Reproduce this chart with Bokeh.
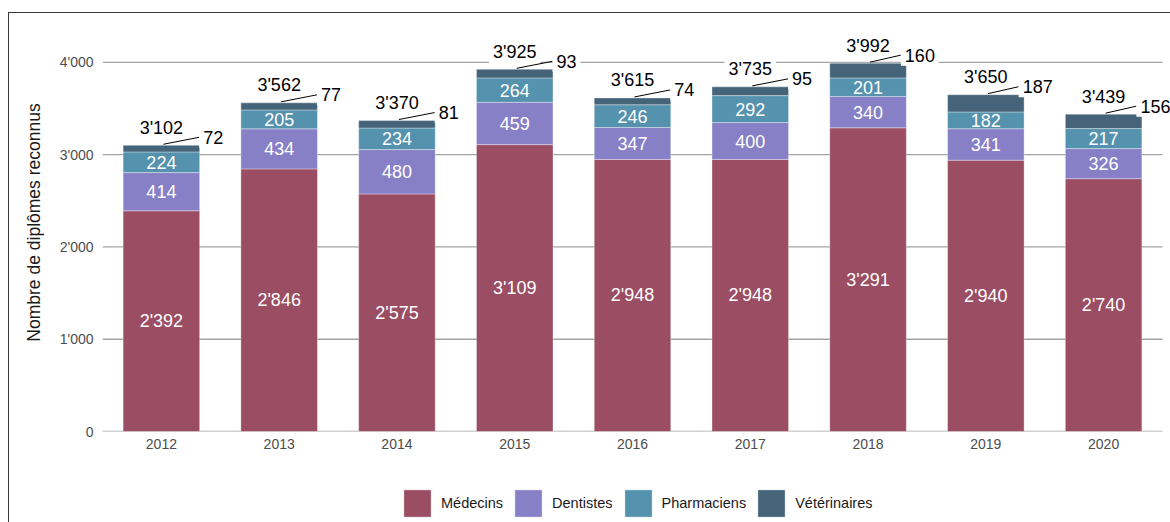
from bokeh.plotting import figure
from bokeh.layouts import column
from bokeh.models import (Range1d, FixedTicker, CustomJSTickFormatter, Legend,
                          LegendItem, ColumnDataSource)
from bokeh.core.properties import value
from bokeh.embed import file_html
from bokeh.resources import INLINE

# ---- data ----
years = [2012, 2013, 2014, 2015, 2016, 2017, 2018, 2019, 2020]
medecins = [2392, 2846, 2575, 3109, 2948, 2948, 3291, 2940, 2740]
dentistes = [414, 434, 480, 459, 347, 400, 340, 341, 326]
pharmaciens = [224, 205, 234, 264, 246, 292, 201, 182, 217]
veterinaires = [72, 77, 81, 93, 74, 95, 160, 187, 156]
series_names = ["Médecins", "Dentistes", "Pharmaciens", "Vétérinaires"]
y_ticks = [0, 1000, 2000, 3000, 4000]

colors = ["#9A4D63", "#8780C7", "#5592AD", "#45647A"]
FONT = "Liberation Sans"
LABEL_SIZE = 18

def fmt(v):
    return f"{v:,}".replace(",", "'")

# ---- figure geometry ----
W, H = 1161, 455
ML, MB = 93, 37
PX_PER_YEAR = 1060 / 9
frame_w = W - ML
frame_h = H - MB
X0 = years[0] - 0.5
X_GRID_END = years[-1] + 0.5
X1 = X0 + frame_w / PX_PER_YEAR
Y0, Y1 = 0, 4530
XS = PX_PER_YEAR
YS = frame_h / (Y1 - Y0)

p = figure(width=W, height=H, x_range=Range1d(X0, X1), y_range=Range1d(Y0, Y1),
           output_backend="svg", toolbar_location=None,
           min_border_left=ML, min_border_right=0, min_border_top=0,
           min_border_bottom=MB)
p.outline_line_color = None
p.background_fill_color = "white"
p.border_fill_color = "white"

p.xgrid.visible = False
p.ygrid.visible = False

for ax in (p.xaxis[0], p.yaxis[0]):
    ax.axis_line_color = None
    ax.major_tick_line_color = None
    ax.minor_tick_line_color = None
    ax.major_tick_out = 0
    ax.major_tick_in = 0
    ax.major_label_text_font = FONT
    ax.major_label_text_font_size = "14px"
    ax.major_label_text_color = "#4d4d4d"

p.xaxis.ticker = FixedTicker(ticks=years)
p.xaxis.major_label_standoff = 7
p.yaxis.ticker = FixedTicker(ticks=y_ticks)
p.yaxis.formatter = CustomJSTickFormatter(
    code="return tick.toString().replace(/\\B(?=(\\d{3})+(?!\\d))/g, \"'\");")
p.yaxis.major_label_standoff = 9
p.yaxis.axis_label = "Nombre de diplômes reconnus"
p.yaxis.axis_label_text_font = FONT
p.yaxis.axis_label_text_font_size = "17.5px"
p.yaxis.axis_label_text_font_style = "normal"
p.yaxis.axis_label_text_color = "#1a1a1a"
p.yaxis.axis_label_standoff = 13

# ---- horizontal grid lines (limited to the panel width) ----
p.segment(x0=[X0] * len(y_ticks), x1=[X_GRID_END] * len(y_ticks), y0=y_ticks, y1=y_ticks,
          line_color="#a3a3a3", line_width=1.3, level="underlay")

# ---- bars ----
src = ColumnDataSource(dict(year=years, med=medecins, dent=dentistes,
                            pharm=pharmaciens, vet=veterinaires))
renderers = p.vbar_stack(["med", "dent", "pharm", "vet"], x="year", width=0.65,
                         fill_color=colors, line_color="white", line_alpha=0.35,
                         line_width=1, source=src)

# ---- labels inside segments ----
lx, ly, lt = [], [], []
for i, yr in enumerate(years):
    base = 0
    for vals in (medecins, dentistes, pharmaciens):
        v = vals[i]
        lx.append(yr)
        ly.append(base + v / 2)
        lt.append(fmt(v))
        base += v
p.text(x=lx, y=ly, text=lt, text_align="center", text_baseline="middle",
       text_font=value(FONT), text_font_size=f"{LABEL_SIZE}px", text_color="white")

# ---- totals ----
totals = [m + d + ph + v for m, d, ph, v in zip(medecins, dentistes, pharmaciens, veterinaires)]
p.text(x=years, y=[t + 17.5 / YS for t in totals], text=[fmt(t) for t in totals],
       text_align="center", text_baseline="middle", text_font=value(FONT),
       text_font_size=f"{LABEL_SIZE}px", text_color="black",
       background_fill_color="white", padding=4)

# ---- vet labels with leader lines ----
vx = [yr + 0.44 for yr in years]
vy = [t + 8 / YS for t in totals]
seg_x0 = [yr + 2 / XS for yr in years]
seg_y0 = [t + 1 / YS for t in totals]
seg_x1 = [x - (len(str(v)) * 0.556 * LABEL_SIZE / 2 + 4) / XS for x, v in zip(vx, veterinaires)]
seg_y1 = vy
p.segment(x0=seg_x0, y0=seg_y0, x1=seg_x1, y1=seg_y1, line_color="black", line_width=1)
p.text(x=vx, y=vy, text=[fmt(v) for v in veterinaires],
       text_align="center", text_baseline="middle", text_font=value(FONT),
       text_font_size=f"{LABEL_SIZE}px", text_color="black",
       background_fill_color="white", padding=4)

# ---- legend (separate strip below the chart) ----
LH = 54
pl = figure(width=W, height=LH, x_range=Range1d(0, 1), y_range=Range1d(0, 1),
            output_backend="svg", toolbar_location=None,
            x_axis_type=None, y_axis_type=None,
            min_border_left=0, min_border_right=0, min_border_top=0, min_border_bottom=0)
pl.outline_line_color = None
pl.background_fill_color = "white"
pl.border_fill_color = "white"
# legend-key renderers (their data lie outside the visible range of this strip)
key_renderers = [pl.vbar(x=[-10], bottom=[-10], top=[-5], width=0.5, fill_color=c,
                         line_color="white", line_alpha=0.35, line_width=1) for c in colors]
legend = Legend(items=[LegendItem(label=n, renderers=[r]) for n, r in zip(series_names, key_renderers)],
                orientation="horizontal", location=(298, 2),
                glyph_width=34, glyph_height=34, label_standoff=7, spacing=8,
                padding=0, margin=0, border_line_color=None,
                background_fill_alpha=0, label_text_font=FONT,
                label_text_font_size="14.5px", label_text_color="#1a1a1a")
pl.add_layout(legend, "center")

layout = column(p, pl, spacing=0)
layout.margin = (12, 0, 0, 8)
layout.styles = {"border-left": "1px solid #3a3a3a", "border-top": "1px solid #3a3a3a"}

open("out.html", "w").write(file_html(layout, INLINE))
